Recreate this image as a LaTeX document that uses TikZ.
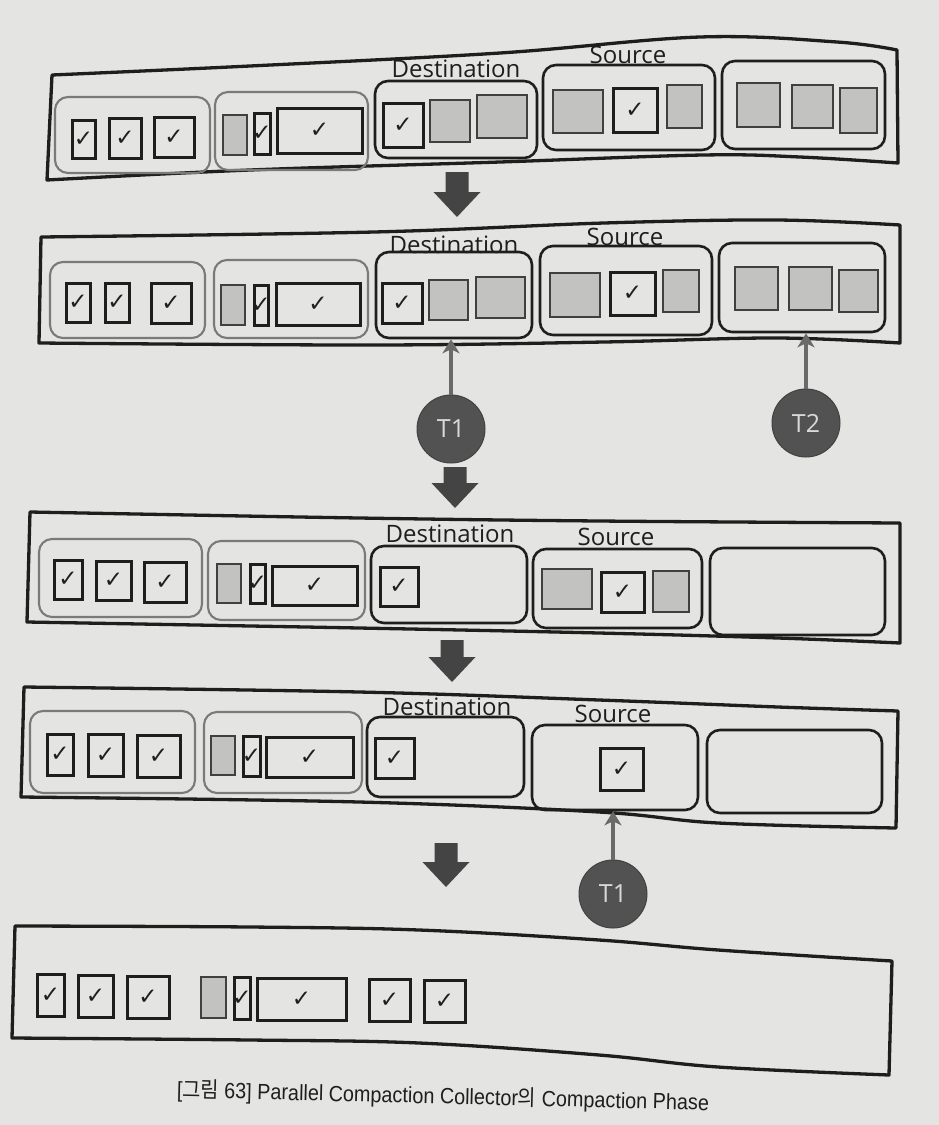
\documentclass[tikz,border=0pt]{standalone}
\usepackage{fontspec}
\setmainfont{Open Sans}
\newfontfamily\sym{DejaVu Sans}
\newfontfamily\capfont{Liberation Sans}
\newfontfamily\krfont{Noto Sans CJK KR}
\usetikzlibrary{arrows.meta}
\definecolor{paper}{HTML}{E4E4E2}
\definecolor{ink}{HTML}{1E1E1E}
\definecolor{greyline}{HTML}{7A7A7A}
\definecolor{greyfill}{HTML}{C2C2C0}
\definecolor{arrowfill}{HTML}{444444}
\definecolor{tfill}{HTML}{525252}
\definecolor{tline}{HTML}{6A6A6A}
\newcommand\ck{\makebox[0pt]{\sym\fontsize{23}{23}\selectfont ✓}}
\newcommand\bx[7]{%
  \node[#2, minimum width={(#5)-(#3)}, minimum height={(#6)-(#4)}] (#1) at ({((#3)+(#5))/2},{((#4)+(#6))/2}) {#7};}
\newcommand\barrow[3]{%
  \fill[arrowfill] ({#1-11.5},{#2}) -- ({#1+11.5},{#2}) -- ({#1+11.5},{#3-25}) -- ({#1+23.5},{#3-25}) -- ({#1},{#3}) -- ({#1-23.5},{#3-25}) -- ({#1-11.5},{#3-25}) -- cycle;}
\tikzset{
  frame/.style={draw=ink, line width=3.3pt, line join=round},
  regG/.style={draw=greyline, line width=2.1pt, rounded corners=13pt, inner sep=0pt},
  regK/.style={draw=ink, line width=2.6pt, rounded corners=13pt, inner sep=0pt},
  ckbox/.style={draw=ink, line width=3pt, inner sep=0pt, text=ink},
  gbox/.style={draw=ink!85, line width=2.2pt, fill=greyfill, inner sep=0pt},
  lbl/.style={anchor=base, inner sep=0pt, text=ink, font=\fontsize{24}{28}\selectfont},
  tnode/.style={circle, fill=tfill, draw=tfill!80!black, line width=1pt, minimum size=68pt, inner sep=0pt, text=white!85!black, font=\fontsize{25}{28}\selectfont},
  tarrow/.style={draw=tline, line width=3.2pt, -{Stealth[length=14pt, width=17pt, inset=4pt]}}
}
\begin{document}
\begin{tikzpicture}[x=1pt,y=-1pt]
\fill[paper] (0,0) rectangle (939,1125);

% ---------- Row 1 ----------
\draw[frame] plot[smooth, tension=0.6] coordinates {(52,75) (250,66) (500,53) (700,37) (837,42) (897,50)}
  -- plot[smooth, tension=0.6] coordinates {(898,163) (800,157) (703,155) (500,162) (250,170) (47,180)} -- cycle;
\bx{r1a}{regG}{55}{97}{210}{173}{}
\bx{r1b}{regG}{215}{92}{368}{170}{}
\bx{r1c}{regK}{375}{81}{537}{158}{}
\bx{r1d}{regK}{543}{65}{715}{150}{}
\bx{r1e}{regK}{722}{61}{885}{149}{}
\bx{r1a1}{ckbox}{72}{120}{95}{158}{\ck}
\bx{r1a2}{ckbox}{109}{118}{141}{158}{\ck}
\bx{r1a3}{ckbox}{154}{117}{194}{157}{\ck}
\bx{r1b1}{gbox}{223}{115}{247}{155}{}
\bx{r1b2}{ckbox}{254}{113}{270}{154}{\ck}
\bx{r1b3}{ckbox}{277}{108}{362}{153}{\ck}
\bx{r1c1}{ckbox}{383}{103}{423}{147}{\ck}
\bx{r1c2}{gbox}{430}{100}{470}{142}{}
\bx{r1c3}{gbox}{477}{95}{527}{138}{}
\bx{r1d1}{gbox}{553}{90}{603}{133}{}
\bx{r1d2}{ckbox}{613}{88}{657}{132}{\ck}
\bx{r1d3}{gbox}{667}{85}{702}{128}{}
\bx{r1e1}{gbox}{737}{83}{780}{127}{}
\bx{r1e2}{gbox}{792}{85}{833}{128}{}
\bx{r1e3}{gbox}{840}{88}{877}{133}{}
\node[lbl] (r1dl) at (456,77) {Destination};
\node[lbl] (r1sl) at (628,63) {Source};
\barrow{457}{172}{217}

% ---------- Row 2 ----------
\draw[frame] plot[smooth, tension=0.6] coordinates {(41,237) (374,232) (604,223) (776,220) (900,225)}
  -- plot[smooth, tension=0.6] coordinates {(900,343) (776,338) (604,342) (374,345) (39,343)} -- cycle;
\bx{r2a}{regG}{50}{262}{205}{338}{}
\bx{r2b}{regG}{214}{260}{368}{338}{}
\bx{r2c}{regK}{376}{252}{532}{338}{}
\bx{r2d}{regK}{540}{246}{712}{335}{}
\bx{r2e}{regK}{719}{243}{885}{332}{}
\bx{r2a1}{ckbox}{66}{283}{90}{322}{\ck}
\bx{r2a2}{ckbox}{105}{283}{129}{322}{\ck}
\bx{r2a3}{ckbox}{151}{283}{191}{323}{\ck}
\bx{r2b1}{gbox}{221}{285}{245}{325}{}
\bx{r2b2}{ckbox}{254}{285}{268}{325}{\ck}
\bx{r2b3}{ckbox}{276}{283}{360}{325}{\ck}
\bx{r2c1}{ckbox}{382}{283}{422}{323}{\ck}
\bx{r2c2}{gbox}{429}{280}{468}{320}{}
\bx{r2c3}{gbox}{476}{277}{525}{318}{}
\bx{r2d1}{gbox}{550}{273}{600}{317}{}
\bx{r2d2}{ckbox}{610}{272}{655}{315}{\ck}
\bx{r2d3}{gbox}{663}{270}{699}{312}{}
\bx{r2e1}{gbox}{735}{267}{778}{310}{}
\bx{r2e2}{gbox}{789}{267}{832}{310}{}
\bx{r2e3}{gbox}{839}{270}{878}{312}{}
\node[lbl] (r2dl) at (454,253) {Destination};
\node[lbl] (r2sl) at (625,245) {Source};
\node[tnode] (t1a) at (451,429) {T1};
\node[tnode] (t2a) at (806,423) {T2};
\draw[tarrow] (t1a.north) -- (t1a.north |- r2c.south);
\draw[tarrow] (t2a.north) -- (t2a.north |- r2e.south);
\barrow{455}{467}{508}

% ---------- Row 3 ----------
\draw[frame] plot[smooth, tension=0.6] coordinates {(30,512) (359,518) (599,521) (900,523)}
  -- plot[smooth, tension=0.6] coordinates {(900,643) (778,638) (599,633) (359,628) (27,622)} -- cycle;
\bx{r3a}{regG}{39}{539}{202}{617}{}
\bx{r3b}{regG}{208}{541}{365}{620}{}
\bx{r3c}{regK}{371}{546}{527}{623}{}
\bx{r3d}{regK}{533}{549}{702}{628}{}
\bx{r3e}{regK}{710}{548}{885}{635}{}
\bx{r3a1}{ckbox}{54}{560}{82}{599}{\ck}
\bx{r3a2}{ckbox}{96}{561}{131}{600}{\ck}
\bx{r3a3}{ckbox}{144}{562}{186}{602}{\ck}
\bx{r3b1}{gbox}{217}{564}{241}{603}{}
\bx{r3b2}{ckbox}{250}{564}{265}{603}{\ck}
\bx{r3b3}{ckbox}{272}{566}{357}{605}{\ck}
\bx{r3c1}{ckbox}{380}{567}{418}{606}{\ck}
\bx{r3d1}{gbox}{542}{569}{592}{609}{}
\bx{r3d2}{ckbox}{601}{572}{644}{612}{\ck}
\bx{r3d3}{gbox}{653}{571}{689}{612}{}
\node[lbl] (r3dl) at (450,542) {Destination};
\node[lbl] (r3sl) at (616,545) {Source};
\barrow{452}{640}{682}

% ---------- Row 4 ----------
\draw[frame] plot[smooth, tension=0.6] coordinates {(24,687) (359,692) (599,700) (778,707) (898,711)}
  -- plot[smooth, tension=0.6] coordinates {(896,828) (718,823) (599,812) (359,802) (21,797)} -- cycle;
\bx{r4a}{regG}{30}{711}{195}{793}{}
\bx{r4b}{regG}{204}{712}{362}{793}{}
\bx{r4c}{regK}{367}{717}{524}{797}{}
\bx{r4d}{regK}{532}{725}{698}{810}{}
\bx{r4e}{regK}{707}{730}{882}{813}{}
\bx{r4a1}{ckbox}{47}{734}{73}{775}{\ck}
\bx{r4a2}{ckbox}{88}{734}{123}{776}{\ck}
\bx{r4a3}{ckbox}{137}{735}{180}{777}{\ck}
\bx{r4b1}{gbox}{211}{736}{235}{775}{}
\bx{r4b2}{ckbox}{243}{736}{260}{776}{\ck}
\bx{r4b3}{ckbox}{266}{737}{353}{777}{\ck}
\bx{r4c1}{ckbox}{375}{738}{414}{778}{\ck}
\bx{r4d1}{ckbox}{600}{748}{643}{790}{\ck}
\node[lbl] (r4dl) at (447,715) {Destination};
\node[lbl] (r4sl) at (613,722) {Source};
\node[tnode] (t1b) at (613,894) {T1};
\draw[tarrow] (t1b.north) -- (t1b.north |- r4d.south);
\barrow{446}{843}{887}

% ---------- Row 5 ----------
\draw[frame] plot[smooth, tension=0.6] coordinates {(15,926) (250,927) (419,930) (599,940) (718,950) (892,961)}
  -- plot[smooth, tension=0.6] coordinates {(889,1075) (718,1067) (599,1055) (419,1043) (250,1040) (12,1038)} -- cycle;
\bx{r5a1}{ckbox}{37}{974}{64}{1016}{\ck}
\bx{r5a2}{ckbox}{78}{975}{113}{1017}{\ck}
\bx{r5a3}{ckbox}{127}{976}{169}{1018}{\ck}
\bx{r5b1}{gbox}{201}{977}{226}{1018}{}
\bx{r5b2}{ckbox}{234}{977}{250}{1019}{\ck}
\bx{r5b3}{ckbox}{257}{978}{346}{1020}{\ck}
\bx{r5c1}{ckbox}{369}{979}{410}{1021}{\ck}
\bx{r5c2}{ckbox}{424}{980}{465}{1022}{\ck}

% ---------- Caption ----------
\node[inner sep=0pt, text=ink, rotate=-1.4, xscale=0.9, transform shape, font=\capfont\fontsize{22}{24}\selectfont] (cap) at (443,1097)
  {[{\krfont 그림} 63] Parallel Compaction Collector{\krfont 의} Compaction Phase};
\end{tikzpicture}
\end{document}
